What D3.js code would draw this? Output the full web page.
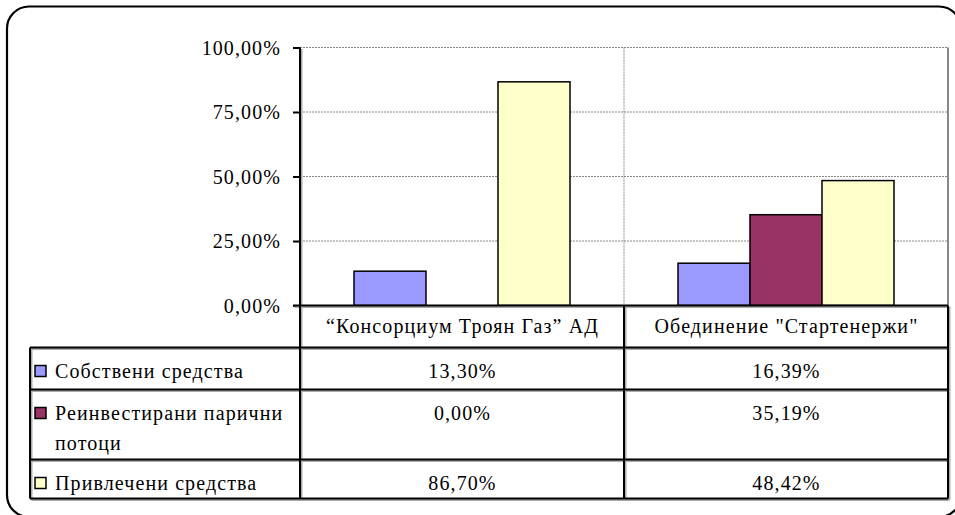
<!DOCTYPE html>
<html>
<head>
<meta charset="utf-8">
<script src="https://cdn.jsdelivr.net/npm/d3@7.9.0/dist/d3.min.js"></script>
<style>
  body { margin: 0; background: #fff; }
</style>
</head>
<body>
<script>
// data (percent)
const categories = ["\u201cКонсорциум Троян Газ\u201d АД", "Обединение \"Стартенержи\""];
const seriesNames = ["Собствени средства", "Реинвестирани парични потоци", "Привлечени средства"];
const ownFunds = [13.30, 16.39];
const reinvested = [0.00, 35.19];
const attracted = [86.70, 48.42];
const yTicks = [0, 25, 50, 75, 100];
const colors = ["#9999FF", "#993366", "#FFFFCC"];

const seriesValues = [ownFunds, reinvested, attracted];

const width = 955, height = 515;
const plotLeft = 300, plotRight = 948, plotTop = 47.5, plotBottom = 305.5;
const tableLeft = 30, headerBottom = 347.5;
const rowBottoms = [389.5, 459.5, 498.5];
const FONT = "'Liberation Serif', 'Times New Roman', serif";

const loc = d3.formatLocale({decimal: ",", thousands: " ", grouping: [3], currency: ["", ""]});
const pct = v => loc.format(".2f")(v) + "%";

const svg = d3.select("body").append("svg")
    .attr("width", width)
    .attr("height", height)
    .attr("font-family", FONT)
    .attr("font-size", 20)
    .attr("letter-spacing", "1.1px");

// outer rounded frame (partly outside the picture on the right and bottom)
svg.append("rect")
    .attr("x", 7).attr("y", 6.5)
    .attr("width", 954).attr("height", 510.5)
    .attr("rx", 22)
    .attr("fill", "none")
    .attr("stroke", "#000")
    .attr("stroke-width", 2.2);

const x0 = d3.scaleBand().domain(categories).range([plotLeft, plotRight]);
const x1 = d3.scaleBand().domain(seriesNames).range([0, x0.bandwidth()]).paddingOuter(0.75);
const y = d3.scaleLinear().domain([0, 100]).range([plotBottom, plotTop]);

// gridlines
svg.append("g")
  .selectAll("line")
  .data(yTicks.filter(d => d > 0))
  .join("line")
    .attr("x1", plotLeft).attr("x2", plotRight)
    .attr("y1", d => y(d)).attr("y2", d => y(d))
    .attr("stroke", "#888")
    .attr("stroke-dasharray", "2,1");

svg.append("line")
    .attr("x1", x0(categories[1])).attr("x2", x0(categories[1]))
    .attr("y1", plotTop).attr("y2", plotBottom)
    .attr("stroke", "#888")
    .attr("stroke-dasharray", "2,1");

svg.append("line")
    .attr("x1", plotRight).attr("x2", plotRight)
    .attr("y1", plotTop).attr("y2", plotBottom)
    .attr("stroke", "#888")
    .attr("stroke-width", 2);

// bars
const rows = seriesNames.map((name, i) => ({name, color: colors[i], values: seriesValues[i]}));

svg.append("g")
  .selectAll("g")
  .data(rows)
  .join("g")
    .attr("fill", d => d.color)
  .selectAll("rect")
  .data(d => d.values.map((v, j) => ({name: d.name, cat: categories[j], v})))
  .join("rect")
    .filter(d => d.v > 0)
    .attr("x", d => x0(d.cat) + x1(d.name))
    .attr("y", d => y(d.v))
    .attr("width", x1.bandwidth())
    .attr("height", d => y(0) - y(d.v))
    .attr("stroke", "#000")
    .attr("stroke-width", 1.5);

// y axis
svg.append("g")
    .attr("transform", `translate(${plotLeft},0)`)
    .call(d3.axisLeft(y).tickValues(yTicks).tickSize(7).tickPadding(10).tickFormat(pct))
    .attr("font-family", FONT)
    .attr("font-size", 20)
    .call(g => g.select(".domain").remove())
    .call(g => g.selectAll(".tick line").attr("stroke", "#000").attr("stroke-width", 2))
    .call(g => g.selectAll(".tick text")
        .attr("x", -19).attr("dy", "0.33em"));

// data table grid, with a light shadow like the original
function tableLines(g) {
  g.append("line").attr("x1", plotLeft).attr("x2", plotLeft).attr("y1", plotTop).attr("y2", rowBottoms[2]);
  g.append("line").attr("x1", x0(categories[1])).attr("x2", x0(categories[1])).attr("y1", plotBottom).attr("y2", rowBottoms[2]);
  g.append("line").attr("x1", plotRight).attr("x2", plotRight).attr("y1", plotBottom).attr("y2", rowBottoms[2]);
  g.append("line").attr("x1", tableLeft).attr("x2", tableLeft).attr("y1", headerBottom).attr("y2", rowBottoms[2]);
  g.append("line").attr("x1", plotLeft - 7).attr("x2", plotRight).attr("y1", plotBottom).attr("y2", plotBottom);
  g.selectAll("line.h")
    .data([headerBottom, ...rowBottoms])
    .join("line")
      .attr("class", "h")
      .attr("x1", tableLeft).attr("x2", plotRight)
      .attr("y1", d => d).attr("y2", d => d);
}
svg.append("g").attr("stroke", "#aaa").attr("stroke-width", 2)
    .attr("transform", "translate(1.5,1.5)").call(tableLines);
svg.append("g").attr("stroke", "#000").attr("stroke-width", 2).call(tableLines);

// category labels
svg.append("g")
  .selectAll("text")
  .data(categories)
  .join("text")
    .attr("x", d => x0(d) + x0.bandwidth() / 2 + 0.5)
    .attr("y", 333)
    .attr("text-anchor", "middle")
    .text(d => d);

// table rows
const rowTops = [headerBottom, ...rowBottoms.slice(0, 2)];
const rowG = svg.append("g")
  .selectAll("g")
  .data(rows)
  .join("g")
    .attr("transform", (d, i) => `translate(0,${rowTops[i]})`);

rowG.append("rect")
    .attr("x", 35).attr("y", 18)
    .attr("width", 11).attr("height", 11)
    .attr("fill", d => d.color)
    .attr("stroke", "#000")
    .attr("stroke-width", 1.5);

rowG.append("text")
    .attr("x", 55)
    .attr("y", 30)
    .each(function(d) {
      const t = d3.select(this);
      const words = d.name.split(" ");
      let line = [];
      let tspan = t.append("tspan").attr("x", 55).attr("dy", 0);
      for (const w of words) {
        line.push(w);
        tspan.text(line.join(" "));
        if (tspan.node().getComputedTextLength() > 240 && line.length > 1) {
          line.pop();
          tspan.text(line.join(" "));
          line = [w];
          tspan = t.append("tspan").attr("x", 55).attr("dy", 30).text(w);
        }
      }
    });

rowG.selectAll("text.val")
  .data(d => d.values.map((v, j) => ({v, cat: categories[j]})))
  .join("text")
    .attr("class", "val")
    .attr("x", d => x0(d.cat) + x0.bandwidth() / 2 + 0.5)
    .attr("y", 30)
    .attr("text-anchor", "middle")
    .text(d => pct(d.v));
</script>
</body>
</html>
